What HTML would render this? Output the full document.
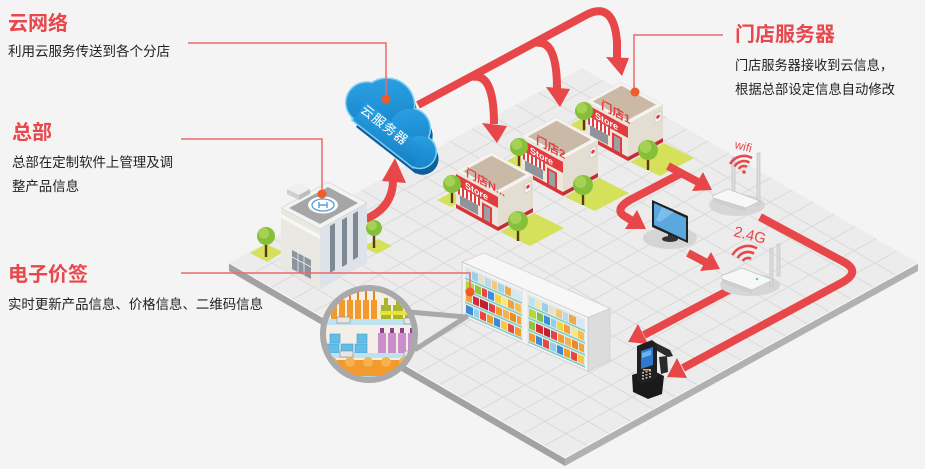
<!DOCTYPE html>
<html><head><meta charset="utf-8"><style>
html,body{margin:0;padding:0;background:#f4f4f4;}
svg{display:block;}
</style></head><body>
<svg width="925" height="469" viewBox="0 0 925 469" xmlns="http://www.w3.org/2000/svg" font-family="'Liberation Sans','Noto Sans CJK SC',sans-serif">
<defs>
<clipPath id="mag"><circle cx="369" cy="334" r="44"/></clipPath>
<linearGradient id="cl" x1="0" y1="0" x2="1" y2="1"><stop offset="0" stop-color="#2ea4e6"/><stop offset="1" stop-color="#1580c6"/></linearGradient>
</defs>
<rect width="925" height="469" fill="#f4f4f4"/>

<!-- platform -->
<polygon points="229,263 565,458 565,466 229,271" fill="#a2a2a2"/>
<polygon points="565,458 918,263 918,271 565,466" fill="#b1b1b1"/>
<polygon points="229,263 582,68 918,263 565,458" fill="#ececec"/>
<g stroke="#dadada" stroke-width="1" fill="none">
<path d="M250,275.2L603,80.2M271,287.4L624,92.4M292,299.6L645,104.6M313,311.8L666,116.8M334,323.9L687,128.9M355,336.1L708,141.1M376,348.3L729,153.3M397,360.5L750,165.5M418,372.7L771,177.7M439,384.9L792,189.9M460,397.1L813,202.1M481,409.3L834,214.3M502,421.4L855,226.4M523,433.6L876,238.6M544,445.8L897,250.8"/>
<path d="M251.1,250.8L587.1,445.8M273.1,238.6L609.1,433.6M295.2,226.4L631.2,421.4M317.3,214.3L653.3,409.3M339.3,202.1L675.3,397.1M361.4,189.9L697.4,384.9M383.4,177.7L719.4,372.7M405.5,165.5L741.5,360.5M427.6,153.3L763.6,348.3M449.6,141.1L785.6,336.1M471.7,128.9L807.7,323.9M493.8,116.8L829.8,311.8M515.8,104.6L851.8,299.6M537.9,92.4L873.9,287.4M559.9,80.2L895.9,275.2"/>
</g>
<polyline points="229,263 565,458 918,263" fill="none" stroke="#f9f9f9" stroke-width="1"/>

<!-- lawns -->
<g fill="#d6e15b">
<polygon points="250,253 266,244 283,252 267,262"/>
<polygon points="363,247 378,239 392,246 377,254"/>
<polygon points="437,200 452,192 466,199 451,207"/>
<polygon points="505,162 519,154 533,161 519,169"/>
<polygon points="570,125 584,117 598,124 584,132"/>
<polygon points="630,162 664,143 694,158 660,176"/>
<polygon points="565,197 599,178 629,193 595,211"/>
<polygon points="500,232 534,213 564,228 530,246"/>
</g>

<!-- red arrows -->
<g stroke="#e8474a" stroke-width="8" fill="none">
<path d="M366,219 C382,212 393,200 393,180"/>
<path d="M418,105 L588,14 Q614,2 617,42 L617,60"/>
<path d="M472,77 Q494,72 494,124"/>
<path d="M536,43 Q557,39 557,89"/>
<path d="M668,166 L698,182"/>
<path d="M682,173 L630,200 Q613,210 626,217 L634,222"/>
<path d="M688,253 L707,263"/>
<path d="M733,288 L644,335"/>
<path d="M760,217 L842,261 Q862,271 843,282 L683,368"/>
</g>
<g fill="#e8474a">
<polygon points="395,158 382,181 406,183"/>
<polygon points="606,57 629,58 622,76"/>
<polygon points="482,123 507,126 497,143"/>
<polygon points="546,87 570,89 560,107"/>
<polygon points="692,191 703,172 712,190"/>
<polygon points="625,229 637,210 646,229"/>
<polygon points="700,271 711,252 720,269"/>
<polygon points="628,342 638,324 648,344"/>
<polygon points="667,377 677,358 687,378"/>
</g>

<!-- HQ -->
<g>
<rect x="264.8" y="242" width="2.4" height="15" fill="#5a3818"/><circle cx="266" cy="236" r="9" fill="#86bf3a"/><circle cx="263.8" cy="233.3" r="5.4" fill="#a5d155"/>
<polygon points="281,208 320,229 320,289 281,268" fill="#e9e8e3"/>
<polygon points="281,214 320,235 320,239 281,218" fill="#f6f6f3"/>
<polygon points="292,250 311,260 311,279 292,269" fill="#8d959c"/>
<path d="M298,253V272M304,256V275M292,257L311,267" stroke="#eef" stroke-width="0.8"/>
<polygon points="320,229 367,203 367,263 320,289" fill="#dde3e8"/>
<polygon points="330,226 335,223 335,270 330,273" fill="#7f8993"/>
<polygon points="342,220 347,217 347,264 342,267" fill="#7f8993"/>
<polygon points="353,214 358,211 358,257 353,260" fill="#7f8993"/>
<polygon points="281,208 320,229 367,203 328,182" fill="#f3f3f1" stroke="#d0d0d0" stroke-width="0.6"/>
<polygon points="289,208 320,224 358,203 328,187" fill="#a6a6a6"/>
<polygon points="287,189 298,183 310,189 299,195" fill="#efefef"/>
<polygon points="287,189 299,195 299,200 287,194" fill="#cfcfcf"/>
<polygon points="299,195 310,189 310,194 299,200" fill="#bdbdbd"/>
<ellipse cx="323" cy="205" rx="15" ry="8.5" fill="#ffffff"/>
<ellipse cx="323" cy="205" rx="11" ry="6" fill="none" stroke="#5a9fd4" stroke-width="1.3"/>
<path d="M319,202V208M327,202V208M319,205H327" stroke="#5a9fd4" stroke-width="1.4" fill="none"/>
<rect x="372.8" y="233" width="2.4" height="15" fill="#5a3818"/><circle cx="374" cy="228" r="8" fill="#86bf3a"/><circle cx="372" cy="225.6" r="4.8" fill="#a5d155"/>
</g>

<!-- Store 1 -->
<g>
<g transform="matrix(1,0.5476,0,1,586,101)">
<rect width="42" height="37" fill="#ece6dc"/>
<rect y="3" width="42" height="11" fill="#e23c3f"/>
<text x="9" y="12" font-size="9" font-weight="bold" fill="#fff" font-family="'Liberation Sans',sans-serif">Store</text>
<rect x="2" y="14" width="22" height="8" fill="#fff"/>
<path d="M3,14v8M7,14v8M11,14v8M15,14v8M19,14v8M23,14v8" stroke="#e23c3f" stroke-width="2"/>
<rect x="4" y="22" width="18" height="10" fill="#8e9498"/>
<rect x="26" y="17" width="10" height="17" fill="#e23c3f"/><rect x="28" y="19" width="6" height="15" fill="#9aa0a4"/>
<rect y="33" width="42" height="4" fill="#d8343a"/>
</g>
<g transform="matrix(1,-0.5429,0,1,628,124)">
<rect width="35" height="37" fill="#e3ddd2"/>
<rect y="33" width="35" height="4" fill="#c42e33"/>
<rect x="27" y="5" width="6" height="9" fill="#f5f5f5" stroke="#bbb" stroke-width="0.5"/><circle cx="30" cy="9" r="1.8" fill="#e23c3f"/>
</g>
<polygon points="628,124 586,101 621,82 663,105" fill="#f6f3ee" stroke="#ddd" stroke-width="0.5"/>
<polygon points="627.4,120.2 592.9,101.4 621.6,85.8 656.1,104.6" fill="#c9b9a6"/>
<g transform="matrix(1,0.5476,0,1,586,101)"><text x="15" y="-1" font-size="11.5" font-weight="bold" fill="#e23c3f">门店1</text></g>
<rect x="582.8" y="116" width="2.4" height="14" fill="#5a3818"/><circle cx="584" cy="111" r="9" fill="#86bf3a"/><circle cx="581.8" cy="108.3" r="5.4" fill="#a5d155"/>
<rect x="646.8" y="156" width="2.4" height="14" fill="#5a3818"/><circle cx="648" cy="150" r="10" fill="#86bf3a"/><circle cx="645.5" cy="147" r="6" fill="#a5d155"/>
</g>

<!-- Store 2 -->
<g>
<g transform="matrix(1,0.5476,0,1,521,136)">
<rect width="42" height="37" fill="#ece6dc"/>
<rect y="3" width="42" height="11" fill="#e23c3f"/>
<text x="9" y="12" font-size="9" font-weight="bold" fill="#fff" font-family="'Liberation Sans',sans-serif">Store</text>
<rect x="2" y="14" width="22" height="8" fill="#fff"/>
<path d="M3,14v8M7,14v8M11,14v8M15,14v8M19,14v8M23,14v8" stroke="#e23c3f" stroke-width="2"/>
<rect x="4" y="22" width="18" height="10" fill="#8e9498"/>
<rect x="26" y="17" width="10" height="17" fill="#e23c3f"/><rect x="28" y="19" width="6" height="15" fill="#9aa0a4"/>
<rect y="33" width="42" height="4" fill="#d8343a"/>
</g>
<g transform="matrix(1,-0.5429,0,1,563,159)">
<rect width="35" height="37" fill="#e3ddd2"/>
<rect y="33" width="35" height="4" fill="#c42e33"/>
<rect x="27" y="5" width="6" height="9" fill="#f5f5f5" stroke="#bbb" stroke-width="0.5"/><circle cx="30" cy="9" r="1.8" fill="#e23c3f"/>
</g>
<polygon points="563,159 521,136 556,117 598,140" fill="#f6f3ee" stroke="#ddd" stroke-width="0.5"/>
<polygon points="562.4,155.2 527.9,136.4 556.6,120.8 591.1,139.6" fill="#c9b9a6"/>
<g transform="matrix(1,0.5476,0,1,521,136)"><text x="15" y="-1" font-size="11.5" font-weight="bold" fill="#e23c3f">门店2</text></g>
<rect x="517.8" y="152" width="2.4" height="14" fill="#5a3818"/><circle cx="519" cy="147" r="9" fill="#86bf3a"/><circle cx="516.8" cy="144.3" r="5.4" fill="#a5d155"/>
<rect x="581.8" y="191" width="2.4" height="14" fill="#5a3818"/><circle cx="583" cy="185" r="10" fill="#86bf3a"/><circle cx="580.5" cy="182" r="6" fill="#a5d155"/>
</g>

<!-- Store N -->
<g>
<g transform="matrix(1,0.5476,0,1,456,171)">
<rect width="42" height="37" fill="#ece6dc"/>
<rect y="3" width="42" height="11" fill="#e23c3f"/>
<text x="9" y="12" font-size="9" font-weight="bold" fill="#fff" font-family="'Liberation Sans',sans-serif">Store</text>
<rect x="2" y="14" width="22" height="8" fill="#fff"/>
<path d="M3,14v8M7,14v8M11,14v8M15,14v8M19,14v8M23,14v8" stroke="#e23c3f" stroke-width="2"/>
<rect x="4" y="22" width="18" height="10" fill="#8e9498"/>
<rect x="26" y="17" width="10" height="17" fill="#e23c3f"/><rect x="28" y="19" width="6" height="15" fill="#9aa0a4"/>
<rect y="33" width="42" height="4" fill="#d8343a"/>
</g>
<g transform="matrix(1,-0.5429,0,1,498,194)">
<rect width="35" height="37" fill="#e3ddd2"/>
<rect y="33" width="35" height="4" fill="#c42e33"/>
<rect x="27" y="5" width="6" height="9" fill="#f5f5f5" stroke="#bbb" stroke-width="0.5"/><circle cx="30" cy="9" r="1.8" fill="#e23c3f"/>
</g>
<polygon points="498,194 456,171 491,152 533,175" fill="#f6f3ee" stroke="#ddd" stroke-width="0.5"/>
<polygon points="497.4,190.2 462.9,171.4 491.6,155.8 526.1,174.6" fill="#c9b9a6"/>
<g transform="matrix(1,0.5476,0,1,456,171)"><text x="10" y="-1" font-size="11" font-weight="bold" fill="#e23c3f">门店N...</text></g>
<rect x="450.8" y="189" width="2.4" height="14" fill="#5a3818"/><circle cx="452" cy="184" r="9" fill="#86bf3a"/><circle cx="449.8" cy="181.3" r="5.4" fill="#a5d155"/>
<rect x="516.8" y="227" width="2.4" height="14" fill="#5a3818"/><circle cx="518" cy="221" r="10" fill="#86bf3a"/><circle cx="515.5" cy="218" r="6" fill="#a5d155"/>
</g>

<!-- shelves -->
<g>
<polygon points="462,262 484,253 610,308.4 588,317.4" fill="#f7f7f7" stroke="#cfcfcf" stroke-width="0.7"/>
<polygon points="588,317.4 610,308.4 610,360.4 588,371.4" fill="#dcdcdc" stroke="#c8c8c8" stroke-width="0.6"/>
<g transform="matrix(1,0.44,0,1,462,262)">
<rect width="126" height="54" fill="#f2f2f2" stroke="#c8c8c8" stroke-width="0.8"/>
<rect x="3" y="3" width="57" height="48" fill="#e2ebec"/>
<rect x="66" y="3" width="57" height="48" fill="#e2ebec"/>
<g>
<rect x="4" y="5" width="5" height="8" fill="#cfe6ee"/><rect x="10" y="5" width="6" height="8" fill="#9dd0e8"/><rect x="17" y="5" width="5" height="8" fill="#e9e2c8"/><rect x="23" y="5" width="6" height="8" fill="#bcd9e8"/><rect x="30" y="5" width="5" height="8" fill="#f3c77a"/><rect x="36" y="5" width="6" height="8" fill="#9fd4ea"/><rect x="43" y="5" width="6" height="8" fill="#f0a64a"/><rect x="50" y="5" width="9" height="8" fill="#d7e8f0"/>
<rect x="4" y="17" width="8" height="8" fill="#b8d435"/><rect x="13" y="17" width="6" height="8" fill="#8cc63f"/><rect x="20" y="17" width="5" height="8" fill="#e8463f"/><rect x="26" y="17" width="6" height="8" fill="#3f8fd8"/><rect x="33" y="17" width="6" height="8" fill="#f4d43d"/><rect x="40" y="17" width="5" height="8" fill="#f7e58a"/><rect x="46" y="17" width="6" height="8" fill="#f3a03a"/><rect x="53" y="17" width="6" height="8" fill="#f4c04a"/>
<rect x="4" y="29" width="6" height="8" fill="#f1a43a"/><rect x="11" y="29" width="6" height="8" fill="#d62b3b"/><rect x="18" y="29" width="8" height="8" fill="#c0202e"/><rect x="27" y="29" width="6" height="8" fill="#e2404a"/><rect x="34" y="29" width="6" height="8" fill="#f59b2b"/><rect x="41" y="29" width="6" height="8" fill="#f7b04a"/><rect x="48" y="29" width="6" height="8" fill="#ed8a24"/><rect x="55" y="29" width="4" height="8" fill="#f3a53a"/>
<rect x="4" y="41" width="7" height="8" fill="#3d8bd4"/><rect x="12" y="41" width="5" height="8" fill="#8fd0ea"/><rect x="18" y="41" width="6" height="8" fill="#e8463f"/><rect x="25" y="41" width="6" height="8" fill="#f39c2a"/><rect x="32" y="41" width="6" height="8" fill="#3d8bd4"/><rect x="39" y="41" width="6" height="8" fill="#f6c84a"/><rect x="46" y="41" width="6" height="8" fill="#e8463f"/><rect x="53" y="41" width="6" height="8" fill="#f39c2a"/>
</g>
<g transform="translate(63,0)">
<rect x="4" y="5" width="6" height="8" fill="#bfe3ea"/><rect x="11" y="5" width="5" height="8" fill="#f3e3b5"/><rect x="17" y="5" width="6" height="8" fill="#9dd0e8"/><rect x="24" y="5" width="6" height="8" fill="#e9e2c8"/><rect x="31" y="5" width="6" height="8" fill="#f3c77a"/><rect x="38" y="5" width="5" height="8" fill="#bcd9e8"/><rect x="44" y="5" width="7" height="8" fill="#f0a64a"/><rect x="52" y="5" width="7" height="8" fill="#d7e8f0"/>
<rect x="4" y="17" width="7" height="8" fill="#b8d435"/><rect x="12" y="17" width="6" height="8" fill="#7cc04a"/><rect x="19" y="17" width="6" height="8" fill="#3f8fd8"/><rect x="26" y="17" width="5" height="8" fill="#8fd0ea"/><rect x="32" y="17" width="6" height="8" fill="#f4d43d"/><rect x="39" y="17" width="6" height="8" fill="#f3a03a"/><rect x="46" y="17" width="6" height="8" fill="#f7e58a"/><rect x="53" y="17" width="6" height="8" fill="#f4c04a"/>
<rect x="4" y="29" width="6" height="8" fill="#8cc63f"/><rect x="11" y="29" width="7" height="8" fill="#d62b3b"/><rect x="19" y="29" width="6" height="8" fill="#c0202e"/><rect x="26" y="29" width="6" height="8" fill="#e2404a"/><rect x="33" y="29" width="6" height="8" fill="#f59b2b"/><rect x="40" y="29" width="6" height="8" fill="#f7b04a"/><rect x="47" y="29" width="6" height="8" fill="#ed8a24"/><rect x="54" y="29" width="5" height="8" fill="#f3a53a"/>
<rect x="4" y="41" width="6" height="8" fill="#f39c2a"/><rect x="11" y="41" width="6" height="8" fill="#3d8bd4"/><rect x="18" y="41" width="6" height="8" fill="#e8463f"/><rect x="25" y="41" width="6" height="8" fill="#8fd0ea"/><rect x="32" y="41" width="6" height="8" fill="#3d8bd4"/><rect x="39" y="41" width="6" height="8" fill="#f39c2a"/><rect x="46" y="41" width="6" height="8" fill="#e8463f"/><rect x="53" y="41" width="6" height="8" fill="#f6c84a"/>
</g>
<g fill="#78cbbf"><rect x="3" y="14" width="120" height="1.5"/><rect x="3" y="26" width="120" height="1.5"/><rect x="3" y="38" width="120" height="1.5"/><rect x="3" y="50" width="120" height="1.5"/></g>
<rect x="60" y="0" width="6" height="54" fill="#f2f2f2" stroke="#cfcfcf" stroke-width="0.5"/>
</g>
</g>

<!-- magnifier -->
<polygon points="409,312 466,317 416,349" fill="#ececec" stroke="#a9a9a9" stroke-width="5" stroke-linejoin="round"/>
<circle cx="369" cy="334" r="46" fill="#f3efe6"/>
<g clip-path="url(#mag)">
<rect x="320" y="285" width="100" height="100" fill="#f3efe6"/>
<g fill="#f29a2e"><rect x="331" y="300" width="6" height="20"/><rect x="339" y="300" width="6" height="20"/><rect x="347" y="300" width="6" height="20"/><rect x="355" y="300" width="6" height="20"/><rect x="363" y="300" width="6" height="20"/><rect x="371" y="300" width="6" height="20"/></g>
<g fill="#e6841c"><rect x="333" y="289" width="2" height="11"/><rect x="341" y="289" width="2" height="11"/><rect x="349" y="289" width="2" height="11"/><rect x="357" y="289" width="2" height="11"/><rect x="365" y="289" width="2" height="11"/><rect x="373" y="289" width="2" height="11"/></g>
<g fill="#aab52c"><rect x="381" y="305" width="10" height="15"/><rect x="393" y="305" width="10" height="15"/><rect x="405" y="305" width="10" height="15"/><rect x="384" y="298" width="4" height="7"/><rect x="396" y="298" width="4" height="7"/><rect x="408" y="298" width="4" height="7"/></g>
<rect x="380" y="311" width="40" height="4" fill="#e8e43c"/>
<rect x="320" y="319" width="100" height="6" fill="#bfe2f1"/>
<rect x="337" y="317" width="13" height="6" fill="#e6e6e6" stroke="#888" stroke-width="0.6"/>
<rect x="404" y="318" width="13" height="6" fill="#e6e6e6" stroke="#888" stroke-width="0.6"/>
<g fill="#63bde6" stroke="#3d9fd0" stroke-width="0.6"><rect x="327" y="344" width="12" height="9"/><rect x="341" y="344" width="12" height="9"/><rect x="355" y="344" width="12" height="9"/><rect x="330" y="334" width="10" height="9"/><rect x="357" y="334" width="10" height="9"/></g>
<g fill="#c98fcb"><rect x="378" y="333" width="8" height="20"/><rect x="388" y="333" width="8" height="20"/><rect x="398" y="333" width="8" height="20"/><rect x="408" y="333" width="8" height="20"/></g>
<g fill="#8e3f8e"><rect x="380" y="328" width="4" height="5"/><rect x="390" y="328" width="4" height="5"/><rect x="400" y="328" width="4" height="5"/><rect x="410" y="328" width="4" height="5"/></g>
<rect x="320" y="353" width="100" height="5" fill="#bfe2f1"/>
<rect x="340" y="351" width="13" height="6" fill="#e6e6e6" stroke="#888" stroke-width="0.6"/>
<rect x="404" y="351" width="13" height="6" fill="#e6e6e6" stroke="#888" stroke-width="0.6"/>
<rect x="320" y="360" width="100" height="17" fill="#f49a2c"/>
<g fill="#f6b24f"><circle cx="332" cy="362" r="5"/><circle cx="350" cy="362" r="5"/><circle cx="368" cy="362" r="5"/><circle cx="386" cy="362" r="5"/><circle cx="404" cy="362" r="5"/></g>
<rect x="320" y="376" width="100" height="12" fill="#a9d9f0"/>
</g>
<circle cx="369" cy="334" r="46" fill="none" stroke="#a9a9a9" stroke-width="6"/>

<!-- monitor -->
<ellipse cx="670" cy="238" rx="27" ry="11" fill="#d5d5d5"/>
<rect x="668" y="230" width="4" height="8" fill="#333"/>
<ellipse cx="670" cy="239" rx="8" ry="3" fill="#333"/>
<polygon points="652,200 688,216 688,243 652,227" fill="#222"/>
<polygon points="654,203 686,218 686,240 654,225" fill="#5aa8df"/>
<polygon points="662,207 674,212 660,222 656,220" fill="#8cc6ee" opacity="0.7"/>

<!-- wifi router -->
<ellipse cx="737" cy="205" rx="28" ry="11" fill="#d6d6d6"/>
<rect x="732" y="157" width="3" height="38" fill="#dcdcdc" stroke="#b5b5b5" stroke-width="0.5"/>
<rect x="757" y="153" width="3" height="52" fill="#dcdcdc" stroke="#b5b5b5" stroke-width="0.5"/>
<polygon points="713,198 746,208 746,212 713,202" fill="#cfcfcf"/>
<polygon points="712,196 728,189 760,201 746,208 713,198" fill="#f7f7f7" stroke="#c4c4c4" stroke-width="0.7"/>
<g stroke="#e8474a" stroke-width="2.5" fill="none"><path d="M738.8,169 A6,6 0 0 1 747,166.8"/><path d="M734.5,166.5 A11,11 0 0 1 749.5,162.5"/><path d="M730.1,164 A16,16 0 0 1 752,158.1"/></g>
<circle cx="744" cy="172" r="1.8" fill="#e8474a"/>
<text x="734" y="148" font-size="12" fill="#e8474a" transform="rotate(15 734 148)" font-family="'Liberation Sans',sans-serif">wifi</text>

<!-- 2.4G router -->
<ellipse cx="750" cy="285" rx="30" ry="11" fill="#d6d6d6"/>
<rect x="770" y="248" width="3" height="38" fill="#dcdcdc" stroke="#b5b5b5" stroke-width="0.5"/>
<rect x="777" y="244" width="3" height="32" fill="#dcdcdc" stroke="#b5b5b5" stroke-width="0.5"/>
<polygon points="722,279 752,290 752,294 722,283" fill="#cfcfcf"/>
<polygon points="721,276 742,268 773,280 752,290 722,279" fill="#f7f7f7" stroke="#c4c4c4" stroke-width="0.7"/>
<circle cx="757" cy="279" r="1.3" fill="#6cd0b0"/>
<g stroke="#e8474a" stroke-width="2.6" fill="none"><path d="M742.8,261 A6,6 0 0 1 751,258.8"/><path d="M737.6,258 A12,12 0 0 1 754,253.6"/><path d="M732.4,255 A18,18 0 0 1 757,248.4"/></g>
<text x="733" y="236" font-size="15" fill="#e8474a" transform="rotate(14 733 236)" font-family="'Liberation Sans',sans-serif">2.4G</text>

<!-- handheld -->
<polygon points="632,375 650,369 664,376 662,394 648,399 633,392" fill="#1a1a1a"/>
<polygon points="659,357 667,356 668,372 661,374" fill="#2a2a2a"/>
<polygon points="652,341 670,350 673,356 668,357 654,349" fill="#2c2c2c"/>
<polygon points="637,346 652,340 657,344 657,378 641,384 637,380" fill="#202020"/>
<polygon points="641,351 653,347 653,365 641,369" fill="#2e78d0"/>
<polygon points="642,353 651,350 651,355 642,358" fill="#6fb0f0"/>
<g fill="#bbb"><rect x="642" y="372" width="2" height="1.5"/><rect x="645.5" y="371" width="2" height="1.5"/><rect x="649" y="370" width="2" height="1.5"/><rect x="642" y="375" width="2" height="1.5"/><rect x="645.5" y="374" width="2" height="1.5"/><rect x="649" y="373" width="2" height="1.5"/><rect x="642" y="378" width="2" height="1.5"/><rect x="645.5" y="377" width="2" height="1.5"/><rect x="649" y="376" width="2" height="1.5"/></g>
<rect x="643" y="369" width="8" height="1.5" fill="#f2b233"/>

<!-- cloud -->
<g transform="translate(3,7)"><g transform="translate(353,120) rotate(38)" fill="#0e5f99">
<circle cx="0" cy="-22" r="20"/><circle cx="18" cy="-32" r="27"/><circle cx="50" cy="-28" r="20"/><circle cx="72" cy="-16" r="16"/><rect x="0" y="-22" width="76" height="22"/>
</g></g>
<g transform="translate(353,120) rotate(38)">
<g fill="#7fcff3" stroke="#7fcff3" stroke-width="3"><circle cx="0" cy="-22" r="20"/><circle cx="18" cy="-32" r="27"/><circle cx="50" cy="-28" r="20"/><circle cx="72" cy="-16" r="16"/><rect x="0" y="-22" width="76" height="22"/></g>
<g fill="url(#cl)"><circle cx="0" cy="-22" r="20"/><circle cx="18" cy="-32" r="27"/><circle cx="50" cy="-28" r="20"/><circle cx="72" cy="-16" r="16"/><rect x="0" y="-22" width="76" height="22"/></g>
<text x="28" y="-11" font-size="13" fill="#ffffff" text-anchor="middle" letter-spacing="1">云服务器</text>
</g>

<!-- callout lines -->
<g stroke="#ea6a6c" stroke-width="1.5" fill="none">
<path d="M188,43 H386 V99"/>
<path d="M181,139 H322 V194"/>
<path d="M723,35 H634 V92"/>
<path d="M181,273 H470 V291"/>
</g>
<g fill="#f15a29">
<circle cx="386" cy="99" r="4.5"/>
<circle cx="322" cy="194" r="4.5"/>
<circle cx="635" cy="92" r="4.5"/>
<circle cx="470" cy="292" r="4.5"/>
</g>

<!-- text -->
<g font-weight="bold" fill="#e8474b" font-size="20">
<text x="8" y="30" textLength="60" lengthAdjust="spacingAndGlyphs">云网络</text>
<text x="12" y="139" textLength="40" lengthAdjust="spacingAndGlyphs">总部</text>
<text x="8" y="281" textLength="80" lengthAdjust="spacingAndGlyphs">电子价签</text>
<text x="735" y="41" textLength="100" lengthAdjust="spacingAndGlyphs">门店服务器</text>
</g>
<g fill="#222" font-size="13.4">
<text x="8" y="56" textLength="162" lengthAdjust="spacingAndGlyphs">利用云服务传送到各个分店</text>
<text x="12" y="167" textLength="161" lengthAdjust="spacingAndGlyphs">总部在定制软件上管理及调</text>
<text x="12" y="191" textLength="67" lengthAdjust="spacingAndGlyphs">整产品信息</text>
<text x="8" y="309" textLength="255" lengthAdjust="spacingAndGlyphs">实时更新产品信息、价格信息、二维码信息</text>
<text x="735" y="70" textLength="158" lengthAdjust="spacingAndGlyphs">门店服务器接收到云信息，</text>
<text x="735" y="94" textLength="160" lengthAdjust="spacingAndGlyphs">根据总部设定信息自动修改</text>
</g>
</svg>
</body></html>
